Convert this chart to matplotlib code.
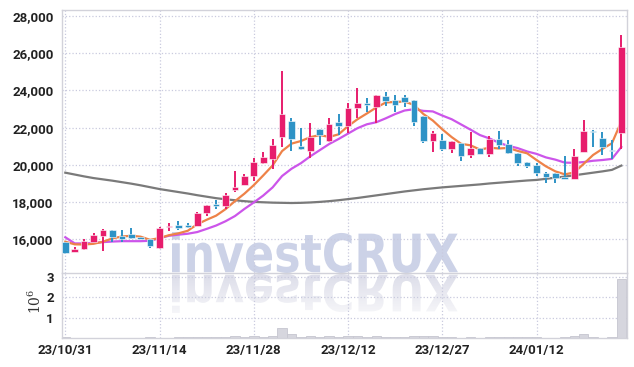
import numpy as np
import matplotlib
matplotlib.use("Agg")
import matplotlib.pyplot as plt
from matplotlib.textpath import TextPath
from matplotlib.font_manager import FontProperties
from matplotlib.patches import PathPatch
from matplotlib.transforms import Affine2D
from matplotlib.colors import LinearSegmentedColormap

# daily candles (trading days 23/10/31 .. 24/01/25)
opens = [15840, 15340, 15460, 15870, 16180, 16500, 16180, 16290, 16110, 16000,
         15530, 16650, 16790, 16750, 16720, 17420, 17880, 17810, 18650, 18920,
         19400, 20080, 20300, 21510, 22360, 21000, 20750, 21910, 21270, 22290,
         22090, 23040, 23330, 23130, 23700, 23490, 23670, 23490, 22630, 21300,
         21340, 20850, 21160, 20530, 20890, 20570, 21370, 21100, 20620, 20170,
         19990, 19580, 19550, 19340, 19240, 20710, 21840, 21440, 20800, 21730]
highs = [15850, 15600, 16020, 16360, 16550, 16520, 16480, 16590, 16120, 16000,
         16650, 16860, 16970, 16860, 17450, 17850, 18110, 18510, 19670, 19510,
         20390, 20710, 21400, 25060, 22540, 21970, 22270, 21920, 22540, 22720,
         23310, 24110, 23580, 23780, 23930, 23760, 23760, 23500, 22640, 21840,
         21660, 21300, 21170, 21750, 20930, 21570, 21820, 21340, 20620, 20170,
         20080, 19600, 19550, 20490, 20840, 22410, 21860, 21780, 21340, 26980]
lows = [15230, 15320, 15420, 15860, 15390, 15870, 15870, 15990, 15990, 15550,
        15500, 16460, 16500, 16590, 16700, 17250, 17610, 17630, 18540, 18900,
        19150, 20050, 19780, 20980, 20750, 20800, 20350, 21070, 21250, 21610,
        21700, 22500, 22860, 22230, 23160, 22860, 23130, 22090, 21190, 20710,
        20750, 20620, 20220, 20360, 20560, 20440, 20840, 20570, 19950, 19820,
        19420, 19040, 19040, 19250, 19240, 20700, 20940, 20530, 20300, 20840]
closes = [15250, 15460, 15930, 16230, 16500, 16110, 16000, 16090, 16000, 15660,
          16600, 16730, 16620, 16680, 17400, 17830, 17810, 18370, 18830, 19400,
          20150, 20400, 21050, 22720, 21370, 20840, 21480, 21610, 22180, 22090,
          23040, 23310, 23200, 23760, 23450, 23200, 23380, 22320, 21280, 21730,
          20850, 21280, 20490, 20890, 20580, 21380, 21070, 20650, 20080, 19940,
          19550, 19360, 19320, 19260, 20480, 21820, 21780, 20980, 20750, 26320]

# moving average lines
ma_short = [15870, 15730, 15720, 15760, 15870, 16050, 16150, 16190, 16140, 15970,
            16070, 16220, 16320, 16460, 16810, 17050, 17270, 17620, 18050, 18450,
            18910, 19430, 19970, 20740, 21140, 21280, 21490, 21600, 21500, 21640,
            22080, 22450, 22760, 23080, 23350, 23380, 23400, 23220, 22730, 22380,
            21910, 21490, 21130, 21050, 20820, 20920, 20880, 20910, 20750, 20620,
            20260, 19920, 19650, 19490, 19590, 20050, 20530, 20860, 21160, 22330]
ma_mid = [16110, 15780, 15780, 15800, 15850, 15880, 15900, 15900, 15900, 15920,
          16060, 16190, 16250, 16300, 16390, 16560, 16740, 16970, 17250, 17630,
          17980, 18350, 18790, 19400, 19790, 20090, 20460, 20790, 21120, 21390,
          21680, 21970, 22180, 22290, 22500, 22730, 22920, 22990, 22900, 22870,
          22650, 22450, 22170, 21890, 21600, 21420, 21190, 21020, 20900, 20720,
          20590, 20400, 20280, 20120, 20110, 20150, 20220, 20260, 20320, 20960]
ma_long = [19580, 19480, 19380, 19290, 19220, 19150, 19070, 18990, 18900, 18800,
           18700, 18620, 18540, 18460, 18370, 18290, 18210, 18150, 18100, 18050,
           18010, 17990, 17970, 17960, 17950, 17960, 17980, 18010, 18050, 18100,
           18160, 18220, 18290, 18360, 18430, 18500, 18570, 18630, 18690, 18740,
           18790, 18830, 18870, 18910, 18950, 19000, 19040, 19080, 19120, 19160,
           19190, 19250, 19310, 19370, 19440, 19510, 19580, 19650, 19730, 19960]

# volume in millions
volume = [0.05, 0.02, 0.02, 0.02, 0.02, 0.02, 0.02, 0.02, 0.02, 0.05,
          0.02, 0.02, 0.03, 0.03, 0.04, 0.04, 0.03, 0.04, 0.09, 0.06,
          0.11, 0.05, 0.09, 0.49, 0.22, 0.05, 0.11, 0.05, 0.11, 0.05,
          0.09, 0.09, 0.05, 0.09, 0.05, 0.05, 0.05, 0.09, 0.09, 0.09,
          0.05, 0.05, 0.02, 0.05, 0.02, 0.05, 0.05, 0.05, 0.05, 0.05,
          0.05, 0.02, 0.02, 0.05, 0.11, 0.20, 0.05, 0.02, 0.05, 2.90]

tick_pos = [0, 10, 20, 30, 40, 50]
tick_labels = ["23/10/31", "23/11/14", "23/11/28", "23/12/12", "23/12/27", "24/01/12"]
price_ticks = [16000, 18000, 20000, 22000, 24000, 26000, 28000]
vol_ticks = [1, 2, 3]

W, H = 634, 367
UP, DOWN = "#e71d6c", "#2e93c6"
GRID = "#c9cade"
SPINE = "#d2d2da"
font = ["Roboto", "DejaVu Sans"]

fig = plt.figure(figsize=(W / 100, H / 100), dpi=100)


def box(l, t, r, b):
    return [l / W, 1 - b / H, (r - l) / W, (b - t) / H]


# background layer for the watermark (pixel coordinates, y from the bottom)
bg = fig.add_axes([0, 0, 1, 1], zorder=-1)
bg.axis("off")

fp = FontProperties(family="DejaVu Sans", weight="bold")
tp = TextPath((0, 0), "investCRUX", prop=fp, size=10)
ext = tp.get_extents()
sx = (458 - 172) / ext.width
sy = (273 - 232) / ext.height
wm = Affine2D().translate(-ext.x0, -ext.y0).scale(sx, sy).translate(172, H - 273)
bg.add_patch(PathPatch(tp, transform=wm + bg.transData, facecolor="#ccd2e7", edgecolor="none"))

# mirrored copy that fades out downwards
ref = Affine2D().translate(-ext.x0, -ext.y0).scale(sx, -sy * 0.95).translate(172, H - 274)
ref_patch = PathPatch(tp, transform=ref + bg.transData, facecolor="none", edgecolor="none")
bg.add_patch(ref_patch)
fade = LinearSegmentedColormap.from_list("fade", ["#dcdde9", "#f6f6f9"])
grad = np.linspace(0, 1, 64).reshape(-1, 1)
img = bg.imshow(grad, cmap=fade, extent=(165, 465, H - 314, H - 273),
                aspect="auto", interpolation="bilinear")
img.set_clip_path(ref_patch)
bg.set_xlim(0, W)
bg.set_ylim(0, H)

ax = fig.add_axes(box(62, 10, 627, 273))
vax = fig.add_axes(box(62, 273, 627, 338), sharex=ax)
for a in (ax, vax):
    a.set_facecolor("none")
    for s in a.spines.values():
        s.set_color(SPINE)
        s.set_linewidth(1)
    a.grid(True, color=GRID, linestyle=":", linewidth=0.9)
    a.set_axisbelow(True)
    a.tick_params(length=0, labelsize=9.5, colors="#222222", pad=6)

x = np.arange(len(closes))
ax.plot(x, ma_long, color="#7a7a7a", lw=1.6, zorder=2)
ax.plot(x, ma_mid, color="#cc55ea", lw=1.6, zorder=2)
ax.plot(x, ma_short, color="#ee8248", lw=1.6, zorder=2)

o = np.array(opens)
c = np.array(closes)
colors = [UP if cc >= oo else DOWN for oo, cc in zip(o, c)]
ax.vlines(x, lows, highs, colors=colors, lw=1.4, zorder=3)
bottom = np.minimum(o, c)
height = np.maximum(np.abs(c - o), 45)
ax.bar(x, height, bottom=bottom, width=0.7, color=colors, edgecolor="white",
       linewidth=0.4, zorder=4)

ax.set_ylim(14190, 28320)
ax.set_xlim(-0.35, 59.6)
ax.set_yticks(price_ticks)
ax.set_yticklabels([f"{v:,}" for v in price_ticks], fontfamily=font, fontweight="bold")
ax.tick_params(axis="x", labelbottom=False)

vax.bar(x, volume, width=1.0, color="#d6d6de", edgecolor="#c6c6d0", linewidth=0.6, zorder=2)
vax.set_ylim(0, 3.2)
vax.set_yticks(vol_ticks)
vax.set_yticklabels([str(v) for v in vol_ticks], fontfamily=font, fontweight="bold")
vax.set_xticks(tick_pos)
vax.set_xticklabels(tick_labels, fontfamily=font, fontweight="bold")
vax.tick_params(axis="x", pad=4)
vax.spines["top"].set_visible(False)

fig.text(35 / W, 1 - 301 / H, r"$10^6$", rotation=90, ha="center", va="center",
         fontsize=10, color="#333333", math_fontfamily="dejavuserif")

fig.savefig("out.png", dpi=100)
